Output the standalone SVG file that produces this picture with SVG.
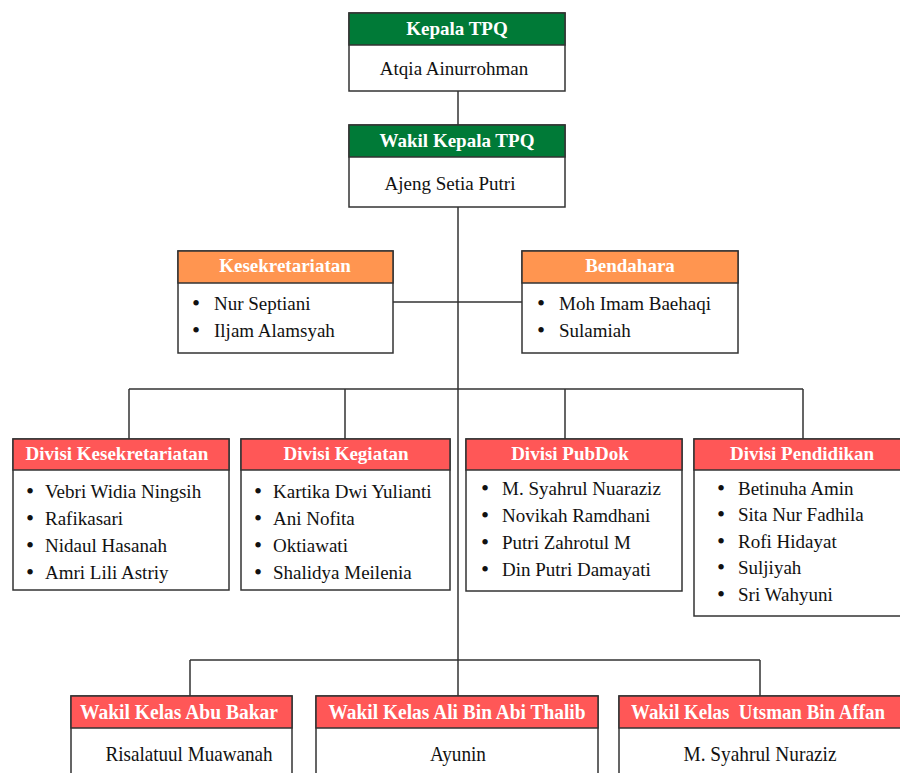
<svg xmlns="http://www.w3.org/2000/svg" width="900" height="773" viewBox="0 0 900 773">
<style>
.box{fill:#fff;stroke:#333;stroke-width:1.5}
.g{fill:#007A37;stroke:#333;stroke-width:1.5}
.o{fill:#FF9550;stroke:#333;stroke-width:1.5}
.r{fill:#FF5757;stroke:#333;stroke-width:1.5}
.h{font-family:"Liberation Serif","Times New Roman",serif;font-weight:bold;font-size:19px;fill:#fff;text-anchor:middle}
.t{font-family:"Liberation Serif","Times New Roman",serif;font-size:19px;fill:#111}
.b{font-family:"Liberation Serif","Times New Roman",serif;font-size:23px;fill:#111;text-anchor:middle}
.c{text-anchor:middle}
.hb{font-family:"Liberation Serif","Times New Roman",serif;font-weight:bold;font-size:20px;fill:#fff;text-anchor:middle}
.tb{font-family:"Liberation Serif","Times New Roman",serif;font-size:21px;fill:#111;text-anchor:middle}
.ln{stroke:#333;stroke-width:1.5;fill:none}
</style>
<rect width="900" height="773" fill="#fff"/>
<g id="connectors">
<path class="ln" d="M458 91V125M458 207V696M393 302H522M129 389H803M129 389V439M345 389V439M565 389V439M803 389V439M190 660H760M190 660V696M760 660V696"/>
</g>
<g id="kepala">
<rect class="box" x="349" y="13" width="216" height="78"/>
<rect class="g" x="349" y="13" width="216" height="32"/>
<text class="h" x="457" y="35">Kepala TPQ</text>
<text class="t c" x="454" y="75">Atqia Ainurrohman</text>
</g>
<g id="wakil-kepala">
<rect class="box" x="349" y="125" width="216" height="82"/>
<rect class="g" x="349" y="125" width="216" height="32"/>
<text class="h" x="457" y="147">Wakil Kepala TPQ</text>
<text class="t c" x="450" y="190">Ajeng Setia Putri</text>
</g>
<g id="kesekretariatan">
<rect class="box" x="178" y="251" width="215" height="102"/>
<rect class="o" x="178" y="251" width="215" height="32"/>
<text class="h" x="285" y="272">Kesekretariatan</text>
<text class="b" x="196" y="311">•</text><text class="t" x="214" y="310">Nur Septiani</text>
<text class="b" x="196" y="338">•</text><text class="t" x="214" y="337">Iljam Alamsyah</text>
</g>
<g id="bendahara">
<rect class="box" x="522" y="251" width="216" height="102"/>
<rect class="o" x="522" y="251" width="216" height="32"/>
<text class="h" x="630" y="272">Bendahara</text>
<text class="b" x="541" y="311">•</text><text class="t" x="559" y="310">Moh Imam Baehaqi</text>
<text class="b" x="541" y="338">•</text><text class="t" x="559" y="337">Sulamiah</text>
</g>
<g id="divisi-kesekretariatan">
<rect class="box" x="13" y="439" width="216" height="151"/>
<rect class="r" x="13" y="439" width="216" height="31"/>
<text class="h" x="117" y="460">Divisi Kesekretariatan</text>
<text class="b" x="30" y="499">•</text><text class="t" x="45" y="498">Vebri Widia Ningsih</text>
<text class="b" x="30" y="526">•</text><text class="t" x="45" y="525">Rafikasari</text>
<text class="b" x="30" y="553">•</text><text class="t" x="45" y="552">Nidaul Hasanah</text>
<text class="b" x="30" y="580">•</text><text class="t" x="45" y="579">Amri Lili Astriy</text>
</g>
<g id="divisi-kegiatan">
<rect class="box" x="241" y="439" width="209" height="151"/>
<rect class="r" x="241" y="439" width="209" height="31"/>
<text class="h" x="346" y="460">Divisi Kegiatan</text>
<text class="b" x="258" y="499">•</text><text class="t" x="273" y="498">Kartika Dwi Yulianti</text>
<text class="b" x="258" y="526">•</text><text class="t" x="273" y="525">Ani Nofita</text>
<text class="b" x="258" y="553">•</text><text class="t" x="273" y="552">Oktiawati</text>
<text class="b" x="258" y="580">•</text><text class="t" x="273" y="579">Shalidya Meilenia</text>
</g>
<g id="divisi-pubdok">
<rect class="box" x="466" y="439" width="216" height="152"/>
<rect class="r" x="466" y="439" width="216" height="31"/>
<text class="h" x="570" y="460">Divisi PubDok</text>
<text class="b" x="485" y="496">•</text><text class="t" x="502" y="495">M. Syahrul Nuaraziz</text>
<text class="b" x="485" y="523">•</text><text class="t" x="502" y="522">Novikah Ramdhani</text>
<text class="b" x="485" y="550">•</text><text class="t" x="502" y="549">Putri Zahrotul M</text>
<text class="b" x="485" y="577">•</text><text class="t" x="502" y="576">Din Putri Damayati</text>
</g>
<g id="divisi-pendidikan">
<rect class="box" x="694" y="439" width="216" height="177"/>
<rect class="r" x="694" y="439" width="216" height="31"/>
<text class="h" x="802" y="460">Divisi Pendidikan</text>
<text class="b" x="721" y="496">•</text><text class="t" x="738" y="495">Betinuha Amin</text>
<text class="b" x="721" y="522">•</text><text class="t" x="738" y="521">Sita Nur Fadhila</text>
<text class="b" x="721" y="549">•</text><text class="t" x="738" y="548">Rofi Hidayat</text>
<text class="b" x="721" y="575">•</text><text class="t" x="738" y="574">Suljiyah</text>
<text class="b" x="721" y="602">•</text><text class="t" x="738" y="601">Sri Wahyuni</text>
</g>
<g id="wakil-abu-bakar">
<rect class="box" x="71" y="696" width="221" height="90"/>
<rect class="r" x="71" y="696" width="221" height="32"/>
<text class="hb" x="179" y="719" textLength="198" lengthAdjust="spacingAndGlyphs">Wakil Kelas Abu Bakar</text>
<text class="tb" x="189" y="761" textLength="167" lengthAdjust="spacingAndGlyphs">Risalatuul Muawanah</text>
</g>
<g id="wakil-ali">
<rect class="box" x="316" y="696" width="282" height="90"/>
<rect class="r" x="316" y="696" width="282" height="32"/>
<text class="hb" x="457" y="719" textLength="257" lengthAdjust="spacingAndGlyphs">Wakil Kelas Ali Bin Abi Thalib</text>
<text class="tb" x="458" y="761" textLength="56" lengthAdjust="spacingAndGlyphs">Ayunin</text>
</g>
<g id="wakil-utsman">
<rect class="box" x="619" y="696" width="282" height="90"/>
<rect class="r" x="619" y="696" width="282" height="32"/>
<text class="hb" x="758" y="719" textLength="254" lengthAdjust="spacingAndGlyphs" xml:space="preserve">Wakil Kelas  Utsman Bin Affan</text>
<text class="tb" x="760" y="761" textLength="153" lengthAdjust="spacingAndGlyphs">M. Syahrul Nuraziz</text>
</g>
</svg>
